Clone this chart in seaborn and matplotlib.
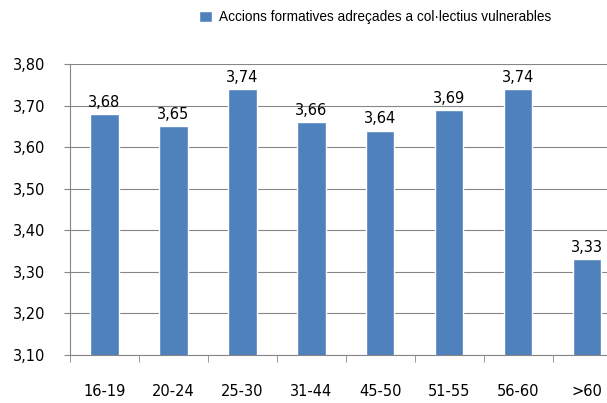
import numpy as np
import pandas as pd
import matplotlib
matplotlib.use('Agg')
import matplotlib.pyplot as plt
from matplotlib.patches import Patch
import seaborn as sns

# Data
age_groups = ['16-19', '20-24', '25-30', '31-44', '45-50', '51-55', '56-60', '>60']
scores = [3.68, 3.65, 3.74, 3.66, 3.64, 3.69, 3.74, 3.33]
series_name = 'Accions formatives adreçades a col·lectius vulnerables'
y_ticks = [3.10, 3.20, 3.30, 3.40, 3.50, 3.60, 3.70, 3.80]

bar_color = '#4F81BD'
grid_color = '#868686'

sns.set_style('white')
plt.rcParams['font.family'] = ['DejaVu Sans']
plt.rcParams['text.color'] = 'black'
plt.rcParams['xtick.color'] = 'black'
plt.rcParams['ytick.color'] = 'black'

df = pd.DataFrame({'group': age_groups, 'score': scores})

fig = plt.figure(figsize=(6.07, 4.03), dpi=100)
# chart area runs past the right edge, as in the reference
ax = fig.add_axes([0.1153, 0.119, 0.909, 0.722])

sns.barplot(data=df, x='group', y='score', color=bar_color, saturation=1,
            width=0.41, ax=ax)

ax.set_ylim(3.10, 3.80)
ax.set_xlim(-0.5, len(age_groups) - 0.5)
ax.set_yticks(y_ticks)
ax.set_yticklabels([f'{v:.2f}'.replace('.', ',') for v in y_ticks], fontsize=10.5)
ax.yaxis.grid(True, color=grid_color, linewidth=0.8)
ax.set_axisbelow(True)
ax.tick_params(axis='y', length=4, color=grid_color, pad=14, left=True)

# category labels at centres, tick marks at boundaries
ax.set_xticks(range(len(age_groups)))
ax.set_xticklabels(age_groups, fontsize=10.5)
ax.set_xticks(np.arange(-0.5, len(age_groups), 1), minor=True)
ax.tick_params(axis='x', which='major', length=0, pad=21)
ax.tick_params(axis='x', which='minor', length=5, color=grid_color, bottom=True)

ax.set_xlabel('')
ax.set_ylabel('')
for side in ['top', 'right']:
    ax.spines[side].set_visible(False)
for side in ['left', 'bottom']:
    ax.spines[side].set_color(grid_color)
    ax.spines[side].set_linewidth(0.8)

ax.bar_label(ax.containers[0], labels=[f'{v:.2f}'.replace('.', ',') for v in scores],
             padding=3, fontsize=10.5)

fig.legend(handles=[Patch(facecolor=bar_color, label=series_name)],
           loc='upper center', bbox_to_anchor=(0.618, 1.005), frameon=False,
           prop={'family': 'Liberation Sans', 'size': 9.8},
           handlelength=0.9, handleheight=0.9, handletextpad=0.5)

fig.savefig('out.png', dpi=100)
plt.close(fig)
